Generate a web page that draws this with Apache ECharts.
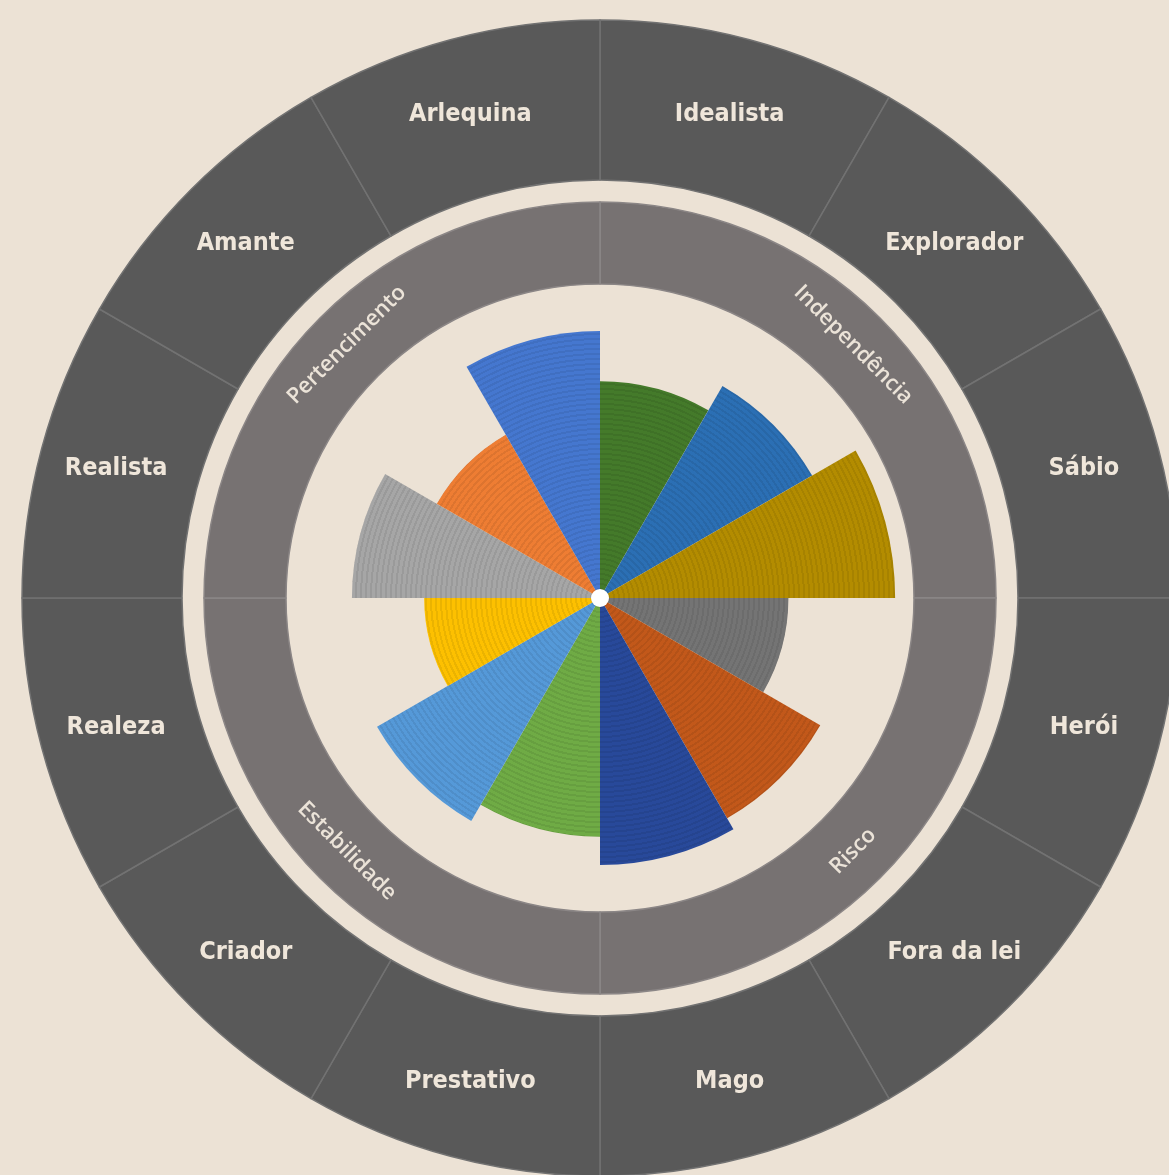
<!DOCTYPE html>
<html><head><meta charset="utf-8">
<script src="https://cdn.jsdelivr.net/npm/echarts@6/dist/echarts.min.js"></script>
<style>html,body{margin:0;padding:0;background:#ece2d5;} #c{width:1169px;height:1175px;}</style>
</head><body><div id="c"></div>
<script>
// Archetypes, clockwise from 12 o'clock
const archetypes = ['Idealista','Explorador','Sábio','Herói','Fora da lei','Mago','Prestativo','Criador','Realeza','Realista','Amante','Arlequina'];
const scores = [69, 78, 94, 60, 81, 85, 76, 82, 56, 79, 60, 85];
const barColors = ['#447a2a','#2b6fb4','#b38c00','#747474','#c2581a','#28499a','#6fab45','#5599d8','#fdc000','#a6a6a6','#ee7d33','#4577cf'];
// Motivation groups (each covers three archetypes)
const groups = ['Independência','Risco','Estabilidade','Pertencimento'];
const groupSizes = [3, 3, 3, 3];

const CX = 600, CY = 598, R_IN = 314;

function shade(hex, f) {
  const n = parseInt(hex.slice(1), 16);
  let r = (n >> 16) & 255, g = (n >> 8) & 255, b = n & 255;
  r = Math.round(r * f); g = Math.round(g * f); b = Math.round(b * f);
  return 'rgb(' + r + ',' + g + ',' + b + ')';
}
// concentric stripe texture as a style (radial gradient)
function striped(color) {
  const stops = [];
  const period = 5, n = Math.ceil(R_IN / period);
  const dark = shade(color, 0.93);
  for (let i = 0; i < n; i++) {
    const a = (i * period) / R_IN, b = (i * period + period * 0.6) / R_IN, c = ((i + 1) * period) / R_IN;
    stops.push({offset: Math.min(a, 1), color: color});
    stops.push({offset: Math.min(b, 1), color: color});
    stops.push({offset: Math.min(b, 1), color: dark});
    stops.push({offset: Math.min(c, 1), color: dark});
  }
  return {type: 'radial', x: CX, y: CY, r: R_IN, global: true, colorStops: stops};
}

const chart = echarts.init(document.getElementById('c'), null, {renderer: 'canvas'});
chart.setOption({
  backgroundColor: '#ece2d5',
  animation: false,
  polar: {center: [CX, CY], radius: [0, R_IN]},
  angleAxis: {
    type: 'category', data: archetypes, startAngle: 90, clockwise: true,
    axisLine: {show: false}, axisTick: {show: false}, axisLabel: {show: false},
    splitLine: {show: false}, splitArea: {show: false}
  },
  radiusAxis: {
    type: 'value', min: 0, max: 100,
    axisLine: {show: false}, axisTick: {show: false}, axisLabel: {show: false},
    splitLine: {show: false}
  },
  series: [
    {
      type: 'pie', name: 'archetypes', center: [CX, CY], radius: [418, 578],
      startAngle: 90, clockwise: true, silent: true,
      data: archetypes.map(a => ({name: a, value: 1})),
      itemStyle: {color: '#595959', borderColor: '#727272', borderWidth: 1.5},
      label: {
        show: true, position: 'inside', rotate: 0, formatter: '{b}',
        color: '#efe6da', fontFamily: 'DejaVu Sans Condensed', fontWeight: 'bold', fontSize: 25,
        padding: [10, 0, 0, 0]
      },
      labelLine: {show: false}
    },
    {
      type: 'pie', name: 'groups', center: [CX, CY], radius: [R_IN, 396],
      startAngle: 90, clockwise: true, silent: true,
      data: groups.map((g, i) => ({name: g, value: groupSizes[i]})),
      itemStyle: {color: '#777272', borderColor: '#8b8686', borderWidth: 1.5},
      label: {
        show: true, position: 'inside', rotate: 'tangential', formatter: '{b}',
        color: '#ebe3d8', fontFamily: 'Open Sans', fontWeight: 600, fontSize: 22
      },
      labelLine: {show: false}
    },
    {
      type: 'bar', coordinateSystem: 'polar', name: 'scores',
      barCategoryGap: '0%', barGap: '0%', silent: true,
      data: scores.map((v, i) => ({value: v, itemStyle: {color: striped(barColors[i])}}))
    },
    {
      type: 'pie', name: 'hub', center: [CX, CY], radius: [0, 9], silent: true,
      data: [{name: 'hub', value: 1}], itemStyle: {color: '#ffffff'},
      label: {show: false}, labelLine: {show: false}
    }
  ]
});
</script></body></html>
